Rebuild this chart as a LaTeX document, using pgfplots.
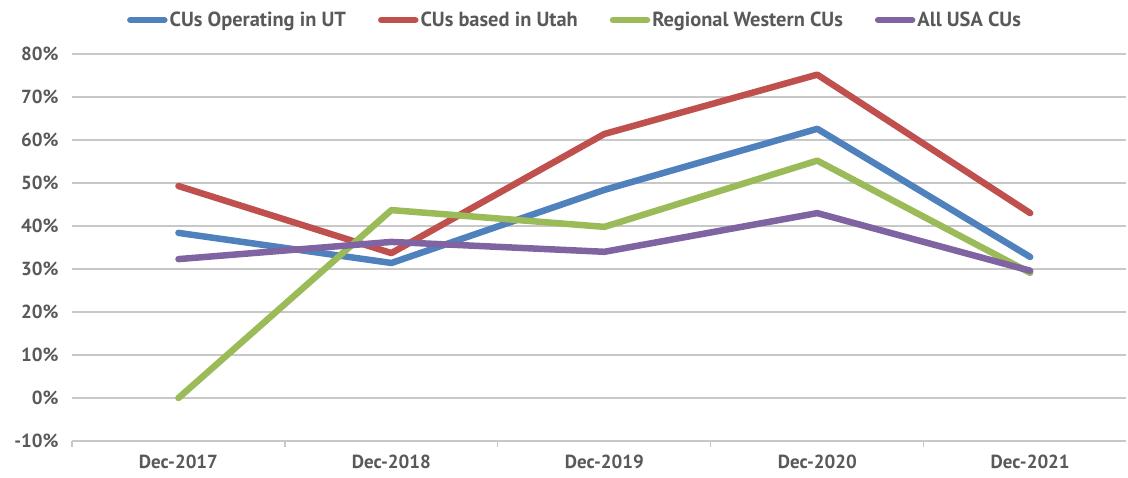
\documentclass[border=0pt]{standalone}
\usepackage{fontspec}
\setmainfont{PT Sans}
\usepackage{pgfplots}
\pgfplotsset{compat=1.18}
\definecolor{cblue}{HTML}{4F81BD}
\definecolor{cred}{HTML}{C0504D}
\definecolor{cgreen}{HTML}{9BBB59}
\definecolor{cpurple}{HTML}{8064A2}
\definecolor{textgray}{HTML}{595959}
\definecolor{gridgray}{HTML}{C8C8C8}
\begin{document}
\begin{tikzpicture}
\useasboundingbox (0,0) rectangle (1128bp,478bp);
\begin{axis}[
  at={(72bp,37bp)}, anchor=south west,
  scale only axis, width=1054bp, height=387bp,
  xmin=-0.5, xmax=4.45, ymin=-10, ymax=80,
  ytick={-10,0,...,80},
  yticklabel={\pgfmathprintnumber[assume math mode=true]{\tick}\%},
  xtick={0,1,2,3,4},
  xticklabels={Dec-2017,Dec-2018,Dec-2019,Dec-2020,Dec-2021},
  major tick length=0pt,
  tick pos=left,
  ymajorgrids,
  grid style={color=gridgray, line width=1.3bp},
  axis line style={draw=none},
  extra x ticks={-0.5,0.5,1.5,2.5,3.5},
  extra x tick labels={},
  extra x tick style={major tick length=6bp, tick align=outside, xmajorgrids=false, tick style={draw=gridgray, line width=1.2bp}},
  every tick label/.append style={text=textgray, font=\bfseries\fontsize{19}{22}\selectfont},
  yticklabel style={xshift=-10bp},
  xticklabel style={yshift=-10bp},
  clip=false,
  legend columns=4,
  legend style={draw=none, at={(0.5,1)}, anchor=center, xshift=-24bp, yshift=34bp,
    font=\bfseries\fontsize{20.5}{23}\selectfont, text=textgray, inner sep=0pt,
    /tikz/every even column/.append style={column sep=30bp}},
  legend image code/.code={\draw[line width=6.5bp, line cap=round] (4bp,0bp) -- (38bp,0bp);},
]
\addplot[cblue, line width=6.5bp, line cap=round, line join=round] coordinates {(0,38.4) (1,31.4) (2,48.4) (3,62.6) (4,32.8)};
\addlegendentry{CUs Operating in UT}
\addplot[cred, line width=6.5bp, line cap=round, line join=round] coordinates {(0,49.3) (1,33.7) (2,61.4) (3,75.2) (4,43.0)};
\addlegendentry{CUs based in Utah}
\addplot[cgreen, line width=6.5bp, line cap=round, line join=round] coordinates {(0,0) (1,43.7) (2,39.8) (3,55.2) (4,29.1)};
\addlegendentry{Regional Western CUs}
\addplot[cpurple, line width=6.5bp, line cap=round, line join=round] coordinates {(0,32.3) (1,36.3) (2,34.0) (3,43.0) (4,29.6)};
\addlegendentry{All USA CUs}
\end{axis}
\end{tikzpicture}
\end{document}
